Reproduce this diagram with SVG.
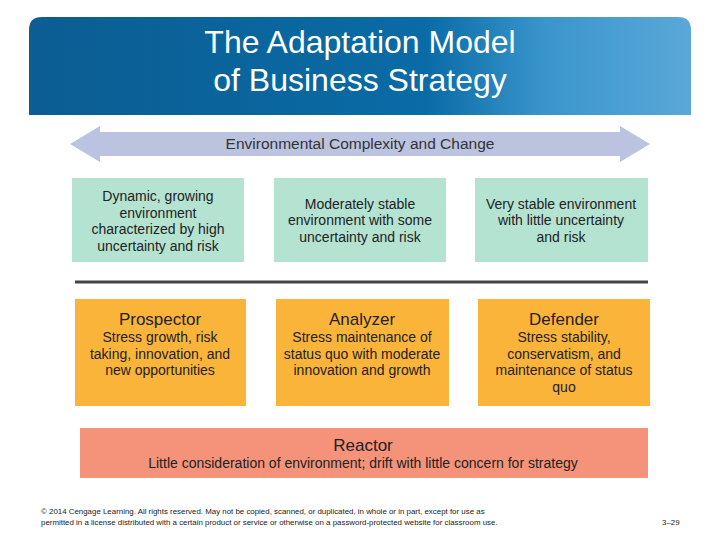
<svg xmlns="http://www.w3.org/2000/svg" width="720" height="540" viewBox="0 0 720 540">
<style>
text{font-family:"Liberation Sans",Arial,sans-serif;text-anchor:middle;fill:#222}
.g{fill:#b5e3d2}
.o{fill:#fbb43a}
.t{font-size:14px}
.h{font-size:17px}
.f{font-size:7.9px;text-anchor:start}
</style>
<defs>
<linearGradient id="hd" x1="0" x2="1" y1="0" y2="0">
<stop offset="0" stop-color="#0b5d92"/><stop offset="0.6" stop-color="#0a6ba6"/><stop offset="0.78" stop-color="#3a95cc"/><stop offset="1" stop-color="#5aa8d8"/>
</linearGradient>
</defs>
<rect width="720" height="540" fill="#fff"/>
<g id="header">
<path d="M29,115 V30 Q29,17 42,17 H678 Q691,17 691,30 V115 Z" fill="url(#hd)"/>
<text x="360" y="53" style="font-size:32px;fill:#fff">The Adaptation Model</text>
<text x="360" y="91" style="font-size:32px;fill:#fff">of Business Strategy</text>
</g>
<g id="axis">
<polygon points="70,144 100,126 100,132 620,132 620,126 650,144 620,162 620,156 100,156 100,162" fill="#bcc3e0"/>
<text x="360" y="149" style="font-size:15.5px;fill:#333">Environmental Complexity and Change</text>
</g>
<g id="env1"><rect class="g" x="72" y="178" width="172" height="84"/>
<text class="t" x="158" y="201">Dynamic, growing</text><text class="t" x="158" y="218">environment</text><text class="t" x="158" y="234">characterized by high</text><text class="t" x="158" y="251">uncertainty and risk</text></g>
<g id="env2"><rect class="g" x="274" y="178" width="172" height="84"/>
<text class="t" x="360" y="209">Moderately stable</text><text class="t" x="360" y="225">environment with some</text><text class="t" x="360" y="242">uncertainty and risk</text></g>
<g id="env3"><rect class="g" x="475" y="178" width="173" height="84"/>
<text class="t" x="561" y="209">Very stable environment</text><text class="t" x="561" y="225">with little uncertainty</text><text class="t" x="561" y="242">and risk</text></g>
<g id="connectors"><line x1="75" y1="282" x2="648" y2="282" stroke="#444" stroke-width="3"/></g>
<g id="prospector"><rect class="o" x="75" y="299" width="171" height="107"/>
<text class="h" x="160" y="325">Prospector</text><text class="t" x="160" y="342">Stress growth, risk</text><text class="t" x="160" y="359">taking, innovation, and</text><text class="t" x="160" y="375">new opportunities</text></g>
<g id="analyzer"><rect class="o" x="276" y="299" width="173" height="107"/>
<text class="h" x="362" y="325">Analyzer</text><text class="t" x="362" y="342">Stress maintenance of</text><text class="t" x="362" y="359">status quo with moderate</text><text class="t" x="362" y="375">innovation and growth</text></g>
<g id="defender"><rect class="o" x="478" y="299" width="172" height="107"/>
<text class="h" x="564" y="325">Defender</text><text class="t" x="564" y="342">Stress stability,</text><text class="t" x="564" y="359">conservatism, and</text><text class="t" x="564" y="375">maintenance of status</text><text class="t" x="564" y="392">quo</text></g>
<g id="reactor"><rect x="80" y="428" width="568" height="50" fill="#f5937a"/>
<text class="h" x="363" y="451">Reactor</text><text class="t" x="363" y="468">Little consideration of environment; drift with little concern for strategy</text></g>
<g id="footer">
<text class="f" x="41" y="514">© 2014 Cengage Learning. All rights reserved. May not be copied, scanned, or duplicated, in whole or in part, except for use as</text>
<text class="f" x="41" y="525">permitted in a license distributed with a certain product or service or otherwise on a password-protected website for classroom use.</text>
<text class="f" x="662" y="525">3–29</text>
</g>
</svg>
